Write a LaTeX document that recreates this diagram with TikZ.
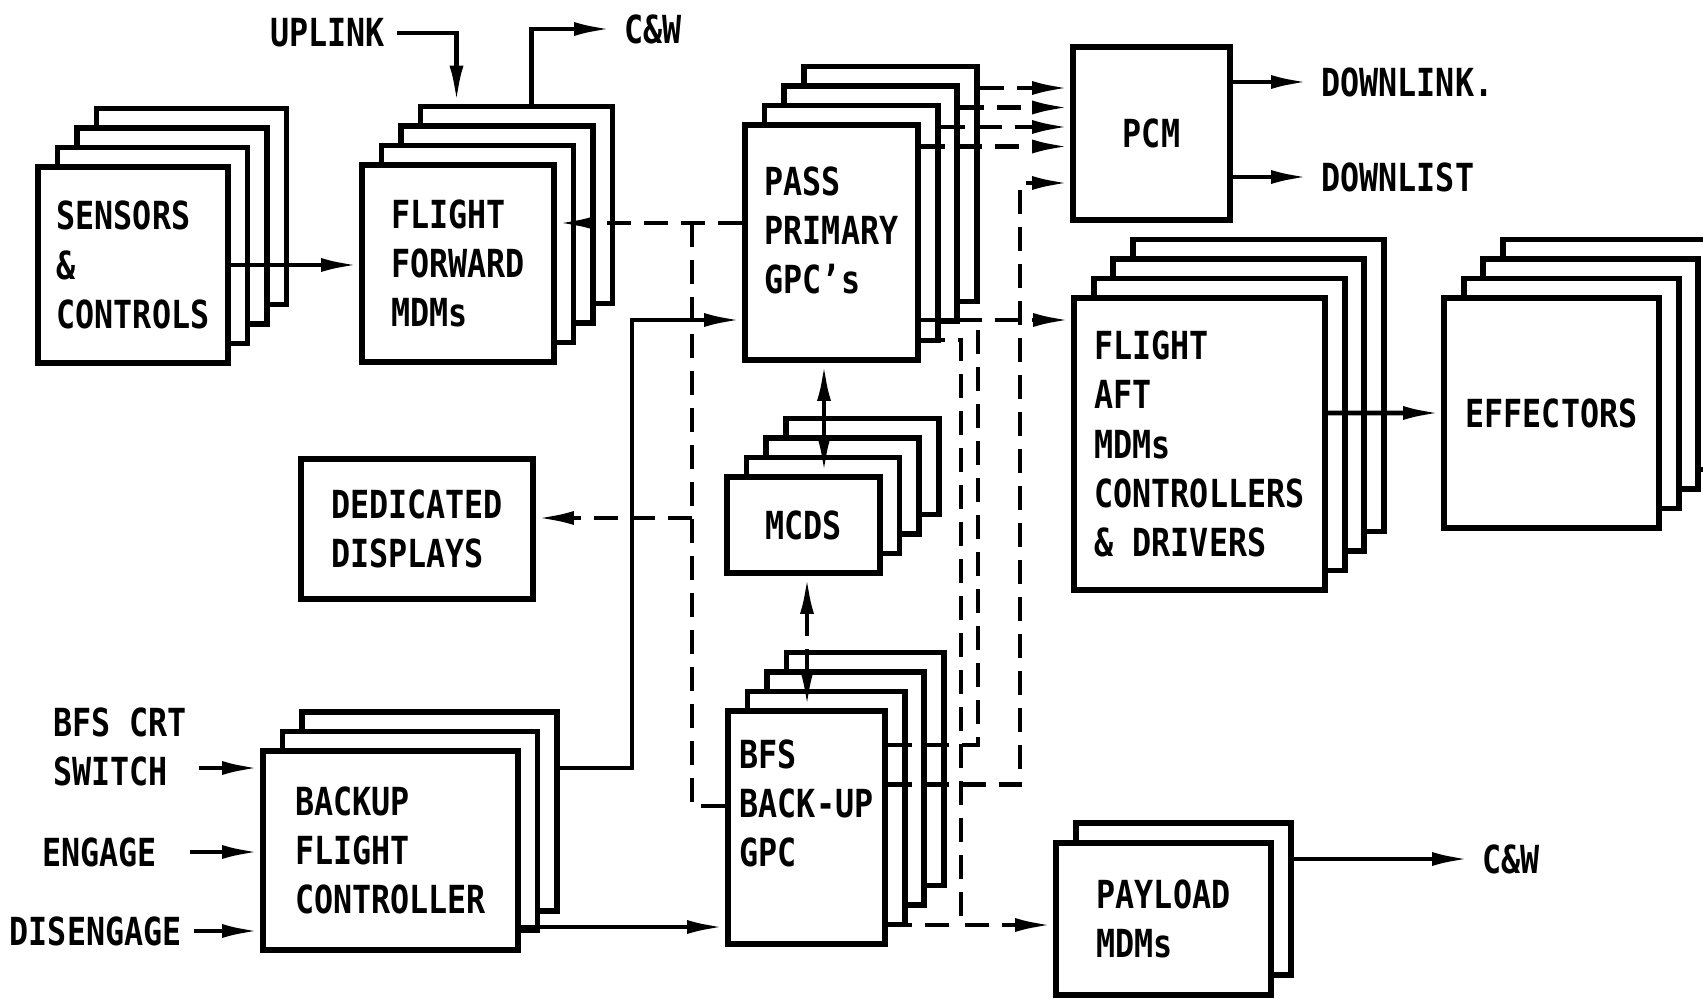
\documentclass[tikz,border=0pt]{standalone}
\usepackage{fontspec}
\setmainfont{DejaVu Sans Mono}[FakeStretch=0.82]
\usetikzlibrary{arrows.meta}

\begin{document}
\begin{tikzpicture}[
  card/.style={draw, fill=white, line width=1.7pt, inner sep=0pt, align=left, font=\bfseries\fontsize{11}{14}\selectfont},
  lbl/.style={font=\bfseries\fontsize{11}{14}\selectfont, align=left},
  arr/.style={line width=1.35pt, -{Latex[length=3.8mm,width=1.4mm]}},
  darr/.style={arr, dash pattern=on 2.4mm off 1.3mm},
  dline/.style={line width=1.35pt, dash pattern=on 2.4mm off 1.3mm},
  dbl/.style={line width=1.35pt, {Latex[length=3.8mm,width=1.4mm]}-{Latex[length=3.8mm,width=1.4mm]}},
  ddbl/.style={dbl, dash pattern=on 2.4mm off 1.3mm},
  sensbox/.style={card, minimum width=1.90cm, minimum height=1.96cm},
  ffmbox/.style={card, minimum width=1.92cm, minimum height=1.97cm},
  passbox/.style={card, minimum width=1.73cm, minimum height=2.35cm},
  aftbox/.style={card, minimum width=2.51cm, minimum height=2.92cm},
  effbox/.style={card, minimum width=2.15cm, minimum height=2.30cm},
  mcdsbox/.style={card, minimum width=1.53cm, minimum height=0.96cm},
  bfsbox/.style={card, minimum width=1.57cm, minimum height=2.33cm},
  bfcbox/.style={card, minimum width=2.55cm, minimum height=1.99cm},
  paybox/.style={card, minimum width=2.15cm, minimum height=1.52cm},
]
  \useasboundingbox (0,0) rectangle (17.03,9.98);

  % stacked units, back copies first
  \foreach \i in {3,2,1} {
    \node[sensbox] (sens\i) at (1.33+0.195*\i, 7.33+0.195*\i) {};
    \node[ffmbox] (ffm\i) at (4.58+0.195*\i, 7.345+0.195*\i) {};
    \node[passbox] (pass\i) at (8.315+0.195*\i, 7.555+0.195*\i) {};
    \node[aftbox] (aft\i) at (11.995+0.195*\i, 5.54+0.195*\i) {};
    \node[effbox] (eff\i) at (15.515+0.195*\i, 5.85+0.195*\i) {};
    \node[mcdsbox] (mcds\i) at (8.035+0.195*\i, 4.73+0.195*\i) {};
    \node[bfsbox] (bfs\i) at (8.065+0.195*\i, 1.705+0.195*\i) {};
  }
  \foreach \i in {2,1}
    \node[bfcbox] (bfc\i) at (3.905+0.195*\i, 1.475+0.195*\i) {};
  \node[paybox] (pay1) at (11.835, 0.99) {};

  \node[sensbox] (sens) at (1.33, 7.33) {SENSORS\\\&\\CONTROLS};
  \node[ffmbox] (ffm) at (4.58, 7.345) {FLIGHT\\FORWARD\\MDMs};
  \node[passbox] (pass) at (8.315, 7.555) {PASS\\PRIMARY\\GPC’s\\[-7pt]\mbox{}};
  \node[card, minimum width=1.57cm, minimum height=1.73cm, align=center] (pcm) at (11.515, 8.645) {PCM};
  \node[aftbox] (aft) at (11.995, 5.54) {FLIGHT\\AFT\\MDMs\\CONTROLLERS\\\& DRIVERS};
  \node[effbox] (eff) at (15.515, 5.85) {EFFECTORS};
  \node[mcdsbox, align=center] (mcds) at (8.035, 4.73) {MCDS};
  \node[card, minimum width=2.32cm, minimum height=1.40cm] (dd) at (4.17, 4.69) {DEDICATED\\DISPLAYS};
  \node[bfsbox] (bfs) at (8.065, 1.705) {BFS\\BACK-UP\\GPC\\\mbox{}};
  \node[bfcbox] (bfc) at (3.905, 1.475) {BACKUP\\FLIGHT\\CONTROLLER};
  \node[paybox] (pay) at (11.635, 0.79) {PAYLOAD\\MDMs};

  % outside signals
  \node[lbl, anchor=east] (uplink) at (3.97, 9.65) {UPLINK};
  \node[lbl, anchor=west] (cwtop) at (6.12, 9.69) {C\&W};
  \node[lbl, anchor=west] (dlink) at (13.09, 9.16) {DOWNLINK.};
  \node[lbl, anchor=west] (dlist) at (13.09, 8.21) {DOWNLIST};
  \node[lbl, anchor=west] (cwbot) at (14.70, 1.39) {C\&W};
  \node[lbl, anchor=west] (crt) at (0.41, 2.51) {BFS CRT\\SWITCH};
  \node[lbl, anchor=east] (engage) at (1.69, 1.46) {ENGAGE};
  \node[lbl, anchor=east] (diseng) at (1.94, 0.67) {DISENGAGE};
  \coordinate (busl) at (6.92, 7.75);

  % solid links
  \draw[arr] (sens.east) -- (sens.east -| ffm.west);
  \draw[arr] (uplink.east) -| ([xshift=-6mm]ffm3.north);
  \draw[arr] ([xshift=1.5mm]ffm3.north) |- (cwtop.west);
  \draw[arr] (pcm.east |- dlink.west) -- (dlink.west);
  \draw[arr] (pcm.east |- dlist.west) -- (dlist.west);
  \draw[arr] ([yshift=3.1mm]aft.east) -- (eff.west);
  \draw[arr] ([yshift=4mm]pay1.east) -- ([yshift=4mm]pay1.east -| cwbot.west);
  \draw[arr] ([yshift=-2.1mm]crt.east) -- ([yshift=-2.1mm]crt.east -| bfc.west);
  \draw[arr] ([xshift=2.1mm]engage.east) -- (engage.east -| bfc.west);
  \draw[arr] (diseng.east) -- (diseng.east -| bfc.west);
  \draw[arr] ([yshift=4.35mm]bfc2.east) -- ++(0.72,0) |- ([yshift=-7.75mm]pass.west);
  \draw[arr] ([yshift=-7.65mm]bfc.east) -- ([yshift=-7.65mm]bfc.east -| bfs.west);
  \draw[dbl] ([xshift=-0.75mm]pass.south) -- ([xshift=-0.75mm]pass.south |- mcds.north);

  % data buses
  \foreach \b in {pass3,pass2,pass1,pass}
    \draw[darr] ([yshift=9.6mm]\b.east) -- ([yshift=9.6mm]\b.east -| pcm.west);
  \draw[darr] ([yshift=1.95mm]pass.west) -- ([yshift=1.95mm]pass.west -| ffm.east);
  \draw[dline] (busl) |- ([yshift=2.15mm]bfs.west);
  \draw[darr] ([yshift=1.1mm]dd.east -| busl) -- ([yshift=1.1mm]dd.east);
  \draw[ddbl] ([xshift=0.35mm]mcds.south) -- ([xshift=0.35mm]mcds.south |- bfs.north);
  \draw[darr] ([yshift=-7.75mm]pass.east) -- ([yshift=-7.75mm]pass.east -| aft.west);
  \draw[dline] ([yshift=8.25mm]bfs.east) -- ++(0.90,0) -- ++(0,4.25);
  \draw[darr] ([yshift=4.3mm]bfs.east) -- ++(1.32,0) |- ([yshift=-4.95mm]pcm.west);
  \draw[darr] ([yshift=-9.75mm]pass.east) -- ++(0.40,0) |- ([yshift=-0.6mm]pay.west);
  \draw[dline] ([yshift=-9.75mm]bfs.east) -- ++(0.73,0);
\end{tikzpicture}
\end{document}
